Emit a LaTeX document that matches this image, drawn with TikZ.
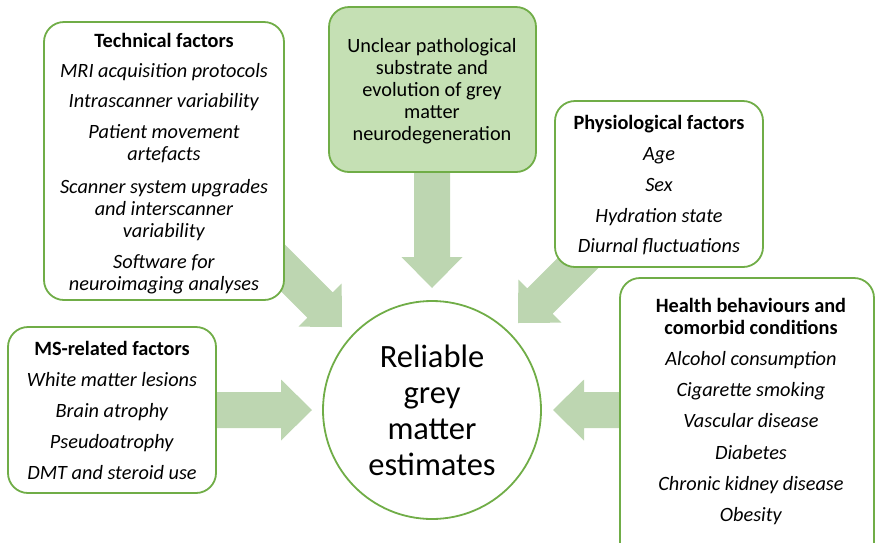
\documentclass[tikz,border=0pt]{standalone}
\usepackage{fontspec}
\setmainfont{Carlito}
\definecolor{gborder}{HTML}{70AD47}
\definecolor{gfill}{HTML}{C5E0B4}
\definecolor{garrow}{RGB}{189,214,177}
\tikzset{
  box/.style={draw=gborder, line width=1.8pt, fill=white, rounded corners=20pt},
  topbox/.style={draw=gborder, line width=1.8pt, fill=gfill, rounded corners=20pt},
  txt/.style={align=center, font=\fontsize{20.3}{22}\selectfont, inner sep=0pt},
  bigtxt/.style={align=center, font=\fontsize{32.5}{36}\selectfont, inner sep=0pt},
  blockarrow/.style={fill=garrow, draw=none},
}
\newcommand{\fatarrow}[3]{% tip, angle, length
  \begin{scope}[shift={(#1)}, rotate=#2]
    \fill[blockarrow] (0,0) -- (-31,30.5) -- (-31,18) -- (-#3,18) -- (-#3,-18) -- (-31,-18) -- (-31,-30.5) -- cycle;
  \end{scope}}
\begin{document}
\begin{tikzpicture}[x=1pt, y=-1pt]
\useasboundingbox (0,0) rectangle (876,542);
\begin{scope}
\clip (0,0) rectangle (876,542);
% arrows (drawn first, boxes cover their tails)
\coordinate (tipT) at (432,288);
\coordinate (tipL) at (312,410);
\coordinate (tipR) at (553,410);
\coordinate (tipTL) at (342,327);
\coordinate (tipTR) at (518,323);
\fatarrow{tipT}{-90}{122}
\fatarrow{tipL}{0}{100}
\fatarrow{tipR}{180}{72}
\fatarrow{tipTL}{-45}{120}
\fatarrow{tipTR}{-135}{105}
% boxes
\draw[box] (44,22) rectangle (284,300);
\draw[topbox] (329,7) rectangle (536,172);
\draw[box] (555,101) rectangle (763,267);
\draw[box] (8,327) rectangle (216,493);
\draw[box] (620,278) rectangle (874,580);
\node[draw=gborder, line width=1.8pt, fill=white, circle, minimum size=218pt, inner sep=0pt] (centre) at (432,410) {};
% texts
\node[txt] (techtxt) at (164,163.5) {\textbf{Technical factors}\\[8pt]
  \textit{MRI acquisition protocols}\\[8pt]
  \textit{Intrascanner variability}\\[9pt]
  \textit{Patient movement}\\\textit{artefacts}\\[11pt]
  \textit{Scanner system upgrades}\\\textit{and interscanner}\\\textit{variability}\\[9pt]
  \textit{Software for}\\\textit{neuroimaging analyses}};
\node[txt] (toptxt) at (432,91) {Unclear pathological\\substrate and\\evolution of grey\\matter\\neurodegeneration};
\node[txt] (phystxt) at (659,185.5) {\textbf{Physiological factors}\\[9pt]
  \textit{Age}\\[9pt]
  \textit{Sex}\\[9pt]
  \textit{Hydration state}\\[8pt]
  \textit{Diurnal fluctuations}};
\node[txt] (mstxt) at (112,410) {\textbf{MS-related factors}\\[9pt]
  \textit{White matter lesions}\\[9pt]
  \textit{Brain atrophy}\\[9pt]
  \textit{Pseudoatrophy}\\[9pt]
  \textit{DMT and steroid use}};
\node[txt] (healthtxt) at (751,411.5) {\textbf{Health behaviours and}\\\textbf{comorbid conditions}\\[9pt]
  \textit{Alcohol consumption}\\[9pt]
  \textit{Cigarette smoking}\\[9pt]
  \textit{Vascular disease}\\[10pt]
  \textit{Diabetes}\\[9pt]
  \textit{Chronic kidney disease}\\[9pt]
  \textit{Obesity}};
\node[bigtxt] (centretxt) at (centre) {Reliable\\grey\\matter\\estimates};
\end{scope}
\end{tikzpicture}
\end{document}
